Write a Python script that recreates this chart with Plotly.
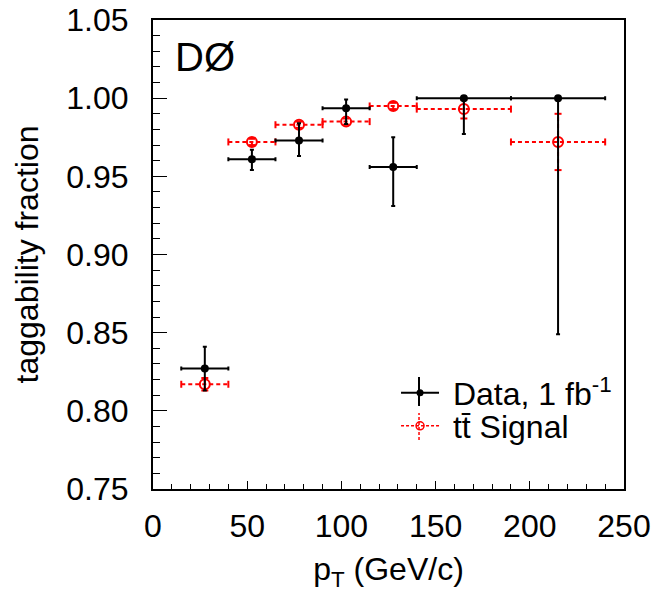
import plotly.graph_objects as go

# ---- data ----
pt_lo = [15, 40, 65, 90, 115, 140, 190]
pt_hi = [40, 65, 90, 115, 140, 190, 240]
pt_center = [27.5, 52.5, 77.5, 102.5, 127.5, 165, 215]

data_frac = [0.827, 0.961, 0.973, 0.9935, 0.956, 1.000, 1.000]
data_err_up = [0.014, 0.006, 0.011, 0.0057, 0.019, 0.0, 0.0]
data_err_dn = [0.014, 0.007, 0.010, 0.010, 0.025, 0.023, 0.151]

sig_frac = [0.817, 0.972, 0.983, 0.985, 0.995, 0.993, 0.972]
sig_err = [0.004, 0.002, 0.002, 0.002, 0.002, 0.006, 0.018]

x_ticks = [0, 50, 100, 150, 200, 250]
y_ticks = [0.75, 0.80, 0.85, 0.90, 0.95, 1.00, 1.05]

FONT = "Liberation Sans, Arial, Helvetica, sans-serif"
RED = "#ff0000"
FS = 32

fig = go.Figure()

# ---- signal: dashed error crosses built from the arrays ----
seg_x, seg_y = [], []
for c, lo, hi, v, e in zip(pt_center, pt_lo, pt_hi, sig_frac, sig_err):
    seg_x += [lo, hi, None, c, c, None]
    seg_y += [v, v, None, v - e, v + e, None]
fig.add_trace(go.Scatter(
    x=seg_x, y=seg_y, mode="lines", showlegend=False, hoverinfo="skip",
    line=dict(color=RED, width=2, dash="4px,3px"),
))
cap_x = pt_lo + pt_hi
cap_y = sig_frac + sig_frac
fig.add_trace(go.Scatter(
    x=cap_x, y=cap_y, mode="markers", showlegend=False, hoverinfo="skip",
    marker=dict(symbol="line-ns", size=5, line=dict(color=RED, width=2)),
))
vcap_x = pt_center + pt_center
vcap_y = [v - e for v, e in zip(sig_frac, sig_err)] + [v + e for v, e in zip(sig_frac, sig_err)]
fig.add_trace(go.Scatter(
    x=vcap_x, y=vcap_y, mode="markers", showlegend=False, hoverinfo="skip",
    marker=dict(symbol="line-ew", size=5, line=dict(color=RED, width=2)),
))
fig.add_trace(go.Scatter(
    x=pt_center, y=sig_frac, mode="markers", showlegend=False,
    marker=dict(symbol="circle-open", size=10, color=RED, line=dict(color=RED, width=2)),
))

# ---- data points ----
fig.add_trace(go.Scatter(
    x=pt_center, y=data_frac, mode="markers", showlegend=False,
    marker=dict(symbol="circle", size=8, color="black"),
    error_x=dict(type="data", symmetric=False,
                 array=[h - c for h, c in zip(pt_hi, pt_center)],
                 arrayminus=[c - l for l, c in zip(pt_lo, pt_center)],
                 color="black", thickness=2, width=2),
    error_y=dict(type="data", symmetric=False, array=data_err_up, arrayminus=data_err_dn,
                 color="black", thickness=2, width=2),
))

# ---- legend entries (one legend each, to control row spacing) ----
fig.add_trace(go.Scatter(
    x=[None], y=[None], mode="lines+markers", name="\u00a0Data, 1 fb<sup>-1</sup>",
    line=dict(color="black", width=2),
    marker=dict(symbol="circle", size=7, color="black"),
    legend="legend",
))
fig.add_trace(go.Scatter(
    x=[None], y=[None], mode="lines+markers", name="\u00a0t\u0074\u0304 Signal",
    line=dict(color=RED, width=1.5, dash="3px,2px"),
    marker=dict(symbol="circle-open", size=8, color=RED, line=dict(color=RED, width=1.5)),
    legend="legend2",
))

# vertical error-bar strokes of the legend symbols
LEG_SX = 0.5648
fig.add_shape(type="line", xref="paper", yref="paper", x0=LEG_SX, x1=LEG_SX,
              y0=0.177, y1=0.2388, line=dict(color="black", width=2))
fig.add_shape(type="line", xref="paper", yref="paper", x0=LEG_SX, x1=LEG_SX,
              y0=0.1045, y1=0.162, line=dict(color=RED, width=1.5, dash="3px,2px"))

fig.add_annotation(
    x=0.042, y=0.921, xref="paper", yref="paper", xanchor="left", yanchor="middle",
    text="DØ", showarrow=False, font=dict(family=FONT, size=40, color="black"),
)

fig.update_xaxes(
    range=[0, 250], tickvals=x_ticks, ticktext=[str(v) for v in x_ticks],
    ticks="inside", ticklen=8, tickwidth=1, tickcolor="black",
    minor=dict(dtick=10, ticks="inside", ticklen=5, tickwidth=1, tickcolor="black"),
    showline=True, linecolor="black", linewidth=2, mirror=True,
    showgrid=False, zeroline=False, automargin=False, ticklabeloverflow="allow",
    tickfont=dict(family=FONT, size=FS, color="black"),
    ticklabelstandoff=8,
    title=dict(text="p<sub>T</sub> (GeV/c)", font=dict(family=FONT, size=FS, color="black"), standoff=14),
)
fig.update_yaxes(
    range=[0.75, 1.05], tickvals=y_ticks, ticktext=[f"{v:.2f}" for v in y_ticks],
    ticks="inside", ticklen=14, tickwidth=1, tickcolor="black",
    minor=dict(dtick=0.01, ticks="inside", ticklen=7, tickwidth=1, tickcolor="black"),
    showline=True, linecolor="black", linewidth=2, mirror=True,
    showgrid=False, zeroline=False, automargin=False, ticklabeloverflow="allow",
    tickfont=dict(family=FONT, size=FS, color="black"),
    ticklabelstandoff=16,
    title=dict(text="taggability fraction", font=dict(family=FONT, size=FS, color="black"), standoff=18),
)

leg_common = dict(xanchor="left", yanchor="middle", bgcolor="rgba(0,0,0,0)",
                  font=dict(family=FONT, size=FS, color="black"), itemwidth=38)
fig.update_layout(
    width=653, height=601,
    margin=dict(l=153, r=29, t=20, b=112),
    paper_bgcolor="white", plot_bgcolor="white",
    font=dict(family=FONT, color="black"),
    legend=dict(x=0.516, y=0.2047, **leg_common),
    legend2=dict(x=0.516, y=0.1343, **leg_common),
)

fig.write_html("out.html", config={"displayModeBar": False},
               post_script="document.body.style.margin='0';")
